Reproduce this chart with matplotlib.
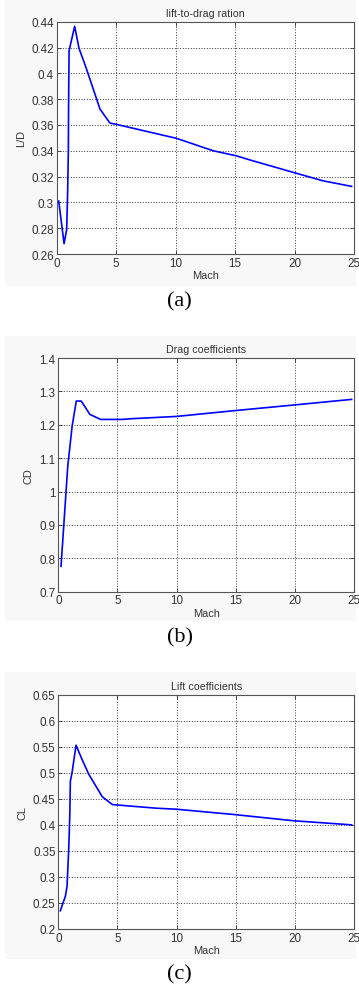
import matplotlib
matplotlib.use("Agg")
import matplotlib.pyplot as plt
from matplotlib.patches import Rectangle

# lift-to-drag ratio
mach_ld = [0.17, 0.62, 0.84, 0.92, 0.98, 1.0, 1.04, 1.51, 1.88, 2.46, 3.64, 4.48, 4.9,
           10.08, 13.16, 15.1, 16.2, 20.4, 22.4, 24.8]
ld = [0.301, 0.268, 0.279, 0.308, 0.340, 0.375, 0.4175, 0.4364, 0.4193, 0.4046, 0.3723,
      0.3614, 0.3607, 0.3496, 0.340, 0.3361, 0.333, 0.3219, 0.3167, 0.3124]

# drag coefficient
mach_cd = [0.23, 0.8, 1.17, 1.52, 1.94, 2.67, 3.58, 5.4, 6.1, 10.0, 14.8, 19.85, 24.8]
cd = [0.776, 1.076, 1.196, 1.271, 1.271, 1.231, 1.216, 1.216, 1.218, 1.225, 1.242, 1.259, 1.276]

# lift coefficient
mach_cl = [0.17, 0.6, 0.74, 0.88, 0.97, 1.02, 1.16, 1.5, 2.0, 2.58, 3.72, 4.57, 6.14,
           8.3, 10.0, 14.8, 19.85, 24.8]
cl = [0.235, 0.263, 0.282, 0.353, 0.417, 0.484, 0.5, 0.553, 0.526, 0.497, 0.454, 0.439,
      0.436, 0.432, 0.430, 0.420, 0.408, 0.400]

plt.rcParams["font.family"] = ["Liberation Sans", "DejaVu Sans"]

W, H = 359, 987
fig = plt.figure(figsize=(W / 100, H / 100), dpi=100)

panels = [
    # (x, y, title, ylabel, ylim, yticks, ytick labels, caption, px box, bg box, caption y)
    (mach_ld, ld, "lift-to-drag ration", "L/D", (0.26, 0.44),
     [0.26, 0.28, 0.3, 0.32, 0.34, 0.36, 0.38, 0.4, 0.42, 0.44],
     ["0.26", "0.28", "0.3", "0.32", "0.34", "0.36", "0.38", "0.4", "0.42", "0.44"],
     "(a)", (56.7, 22.7, 354, 255), (5, 0, 356, 287), 302),
    (mach_cd, cd, "Drag coefficients", "CD", (0.7, 1.4),
     [0.7, 0.8, 0.9, 1.0, 1.1, 1.2, 1.3, 1.4],
     ["0.7", "0.8", "0.9", "1", "1.1", "1.2", "1.3", "1.4"],
     "(b)", (58.3, 359, 354, 592.7), (5, 337, 356, 622), 638),
    (mach_cl, cl, "Lift coefficients", "CL", (0.2, 0.65),
     [0.2, 0.25, 0.3, 0.35, 0.4, 0.45, 0.5, 0.55, 0.6, 0.65],
     ["0.2", "0.25", "0.3", "0.35", "0.4", "0.45", "0.5", "0.55", "0.6", "0.65"],
     "(c)", (58.3, 695.7, 354, 930), (5, 673, 356, 960), 975),
]

for x, y, title, ylab, ylim, yt, ytl, cap, box, bg, capy in panels:
    # light grey figure background behind each panel
    fig.patches.append(Rectangle((bg[0] / W, 1 - bg[3] / H), (bg[2] - bg[0]) / W,
                                 (bg[3] - bg[1]) / H, transform=fig.transFigure,
                                 facecolor="#f8f8f8", edgecolor="none", zorder=-5))
    l, t, r, b = box
    ax = fig.add_axes([l / W, 1 - b / H, (r - l) / W, (b - t) / H])
    ax.set_facecolor("white")
    ax.plot(x, y, color="#0000ff", lw=1.2)
    ax.set_xlim(0, 25)
    ax.set_ylim(*ylim)
    ax.set_xticks([0, 5, 10, 15, 20, 25])
    ax.set_yticks(yt)
    ax.set_yticklabels(ytl)
    ax.set_axisbelow(True)
    ax.grid(True, color="#222222", linestyle=(0, (1.2, 2)), lw=0.6)
    ax.tick_params(direction="in", length=3, width=0.6, labelsize=8.4, colors="#333333",
                   pad=2, top=True, right=True)
    for s in ax.spines.values():
        s.set_color("#555555")
        s.set_linewidth(0.8)
    ax.set_title(title, fontsize=7.7, color="#333333", pad=4)
    ax.set_xlabel("Mach", fontsize=7.9, color="#333333", labelpad=1)
    ax.set_ylabel(ylab, fontsize=7.9, color="#333333", labelpad=4)
    fig.text(0.5, 1 - capy / H, cap, ha="center", va="center",
             family="Liberation Serif", fontsize=16)

fig.savefig("out.png", dpi=100)
